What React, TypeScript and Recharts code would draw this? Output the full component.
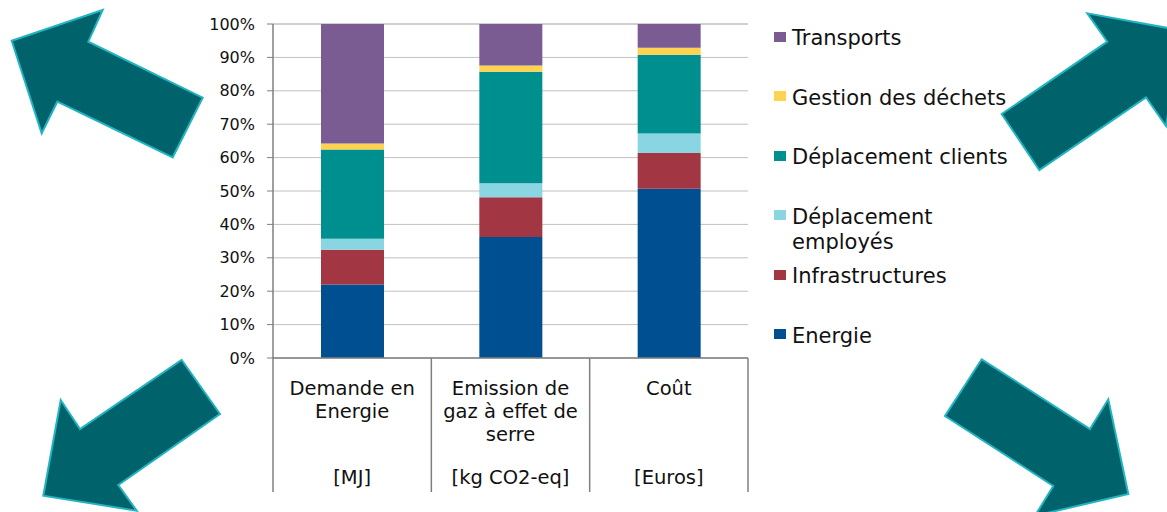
import React from 'react';
import { BarChart, Bar, XAxis, YAxis, CartesianGrid } from 'recharts';

const categories = ['Demande en Energie', 'Emission de gaz à effet de serre', 'Coût'];
const categoryLines = [['Demande en', 'Energie'], ['Emission de', 'gaz à effet de', 'serre'], ['Coût']];
const units = ['[MJ]', '[kg CO2-eq]', '[Euros]'];

const energie = [22.0, 36.2, 50.7];
const infrastructures = [10.4, 11.9, 10.7];
const deplacementEmployes = [3.3, 4.2, 5.8];
const deplacementClients = [26.7, 33.4, 23.6];
const gestionDechets = [1.8, 1.9, 2.1];
const transports = [35.8, 12.4, 7.1];

const yTicks = [0, 10, 20, 30, 40, 50, 60, 70, 80, 90, 100];

const SERIES = [
  { key: 'energie', name: 'Energie', color: '#004F91', values: energie },
  { key: 'infrastructures', name: 'Infrastructures', color: '#A33643', values: infrastructures },
  { key: 'deplacementEmployes', name: 'Déplacement employés', color: '#8AD5E2', values: deplacementEmployes },
  { key: 'deplacementClients', name: 'Déplacement clients', color: '#008F8F', values: deplacementClients },
  { key: 'gestionDechets', name: 'Gestion des déchets', color: '#FFD24F', values: gestionDechets },
  { key: 'transports', name: 'Transports', color: '#7A5C93', values: transports },
];

const data = categories.map((c, i) => {
  const row: any = { category: c };
  SERIES.forEach((s) => { row[s.key] = s.values[i]; });
  return row;
});

const W = 1167;
const H = 512;
const LEFT = 273;
const RIGHT = 419;
const TOP = 24;
const BOTTOM = 154;
const BAND = (W - LEFT - RIGHT) / categories.length;
const FONT = '"DejaVu Sans", Arial, sans-serif';

const CategoryTick = (props: any) => {
  const { x, y, payload, index } = props;
  const i = categories.indexOf(payload.value);
  const lines = categoryLines[i] || [payload.value];
  const baselines = [37, 60, 83];
  return (
    <g>
      <line x1={x - BAND / 2} x2={x - BAND / 2} y1={y} y2={y + 134} stroke="#7f7f7f" strokeWidth={1.5} />
      {index === categories.length - 1 && (
        <line x1={x + BAND / 2} x2={x + BAND / 2} y1={y} y2={y + 134} stroke="#7f7f7f" strokeWidth={1.5} />
      )}
      {lines.map((l, k) => (
        <text key={k} x={x} y={y + baselines[k]} textAnchor="middle" fontSize={19.5} fill="#111" fontFamily={FONT}>{l}</text>
      ))}
      <text x={x} y={y + 126} textAnchor="middle" fontSize={19.5} fill="#111" fontFamily={FONT}>{units[i]}</text>
    </g>
  );
};

const arrows = [
  '11.7,40.7 102.7,10 88.3,41.7 202.7,97.7 172.7,157.3 57.3,101.7 41.7,133.3',
  '181.7,360 220,414 118.3,485 136.7,510.7 43.3,495.7 60.7,400 80,429',
  '1001.7,114 1107.3,41.7 1087.3,13.3 1182.5,30.7 1166,126 1146,97.3 1039.3,170',
  '981.7,359.3 1090,429 1108.3,399.3 1128.3,494 1035,515.8 1053.3,486 945,416',
];

const Legend6 = () => (
  <div style={{ position: 'absolute', left: 774, top: 26.2, fontFamily: FONT, fontSize: 21, lineHeight: '25px', color: '#111' }}>
    {[...SERIES].reverse().map((s) => (
      <div key={s.key} style={{ position: 'relative', height: 59.5, width: 240 }}>
        <div style={{ position: 'absolute', left: 0, top: 5.8, width: 12, height: 10, background: s.color }} />
        <div style={{ position: 'absolute', left: 18, top: 0, width: 222, whiteSpace: 'normal' }}>{s.name}</div>
      </div>
    ))}
  </div>
);

export default function App() {
  return (
    <div style={{ position: 'absolute', left: 0, top: 0, width: W, height: H, background: '#fff', overflow: 'hidden' }}>
      <BarChart
        width={W}
        height={H}
        data={data}
        margin={{ top: TOP, right: RIGHT, bottom: 0, left: 0 }}
        style={{ fontFamily: FONT }}
      >
        <CartesianGrid horizontal vertical={false} stroke="#c0c0c0" strokeWidth={1} />
        <XAxis
          dataKey="category"
          height={BOTTOM}
          interval={0}
          tickLine={false}
          tickSize={0}
          tickMargin={0}
          axisLine={{ stroke: '#7f7f7f', strokeWidth: 1.5 }}
          tick={<CategoryTick />}
        />
        <YAxis
          width={LEFT}
          domain={[0, 100]}
          ticks={yTicks}
          interval={0}
          tickFormatter={(v: number) => `${v}%`}
          tickSize={6}
          tickMargin={12}
          tickLine={{ stroke: '#7f7f7f' }}
          axisLine={{ stroke: '#7f7f7f', strokeWidth: 1.5 }}
          tick={{ fontSize: 16, fill: '#111', fontFamily: FONT }}
        />
        <YAxis
          yAxisId="right"
          orientation="right"
          width={0}
          tick={false}
          tickLine={false}
          axisLine={{ stroke: '#bdbdbd', strokeWidth: 1.5 }}
        />
        {SERIES.map((s) => (
          <Bar key={s.key} dataKey={s.key} name={s.name} stackId="a" fill={s.color} barSize={63} isAnimationActive={false} />
        ))}
      </BarChart>
      <Legend6 />
      <svg width={W} height={H} style={{ position: 'absolute', left: 0, top: 0, pointerEvents: 'none' }}>
        {arrows.map((p, i) => (
          <polygon key={i} points={p} fill="#00636B" stroke="#22B4C0" strokeWidth={2} strokeLinejoin="miter" />
        ))}
      </svg>
    </div>
  );
}
